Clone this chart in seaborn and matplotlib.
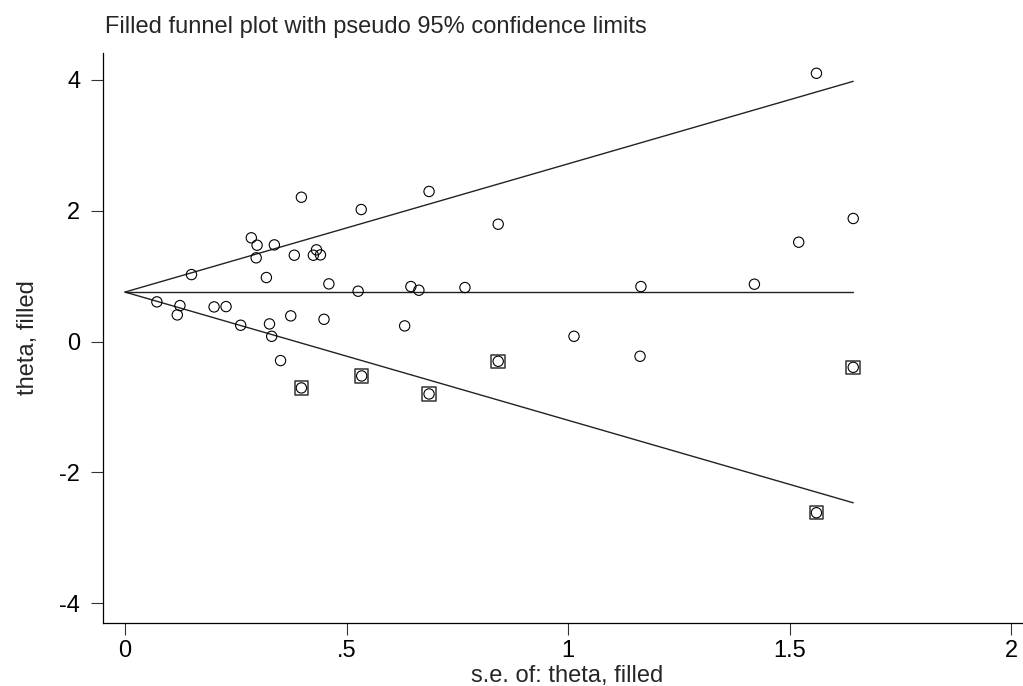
import numpy as np
import pandas as pd
import matplotlib
matplotlib.use("Agg")
import matplotlib.pyplot as plt
import seaborn as sns

# observed studies (standard error, effect estimate)
obs_se = [0.072, 0.124, 0.118, 0.150, 0.201, 0.228, 0.261, 0.285, 0.298, 0.296,
          0.319, 0.326, 0.331, 0.337, 0.351, 0.374, 0.382, 0.398, 0.432, 0.425,
          0.441, 0.449, 0.460, 0.526, 0.533, 0.631, 0.645, 0.663, 0.686, 0.767,
          0.842, 1.013, 1.162, 1.164, 1.420, 1.520, 1.560, 1.643]
obs_theta = [0.607, 0.550, 0.408, 1.024, 0.530, 0.535, 0.250, 1.586, 1.473, 1.280,
             0.979, 0.270, 0.081, 1.478, -0.290, 0.393, 1.320, 2.206, 1.402, 1.320,
             1.325, 0.341, 0.882, 0.770, 2.018, 0.240, 0.841, 0.785, 2.294, 0.826,
             1.794, 0.081, -0.224, 0.841, 0.877, 1.519, 4.100, 1.881]

# imputed ("filled") studies
fill_se = [0.398, 0.534, 0.686, 0.842, 1.560, 1.643]
fill_theta = [-0.708, -0.525, -0.800, -0.301, -2.615, -0.393]

pooled = 0.757
se_max = 1.643
z = 1.96

obs = pd.DataFrame({"se": obs_se, "theta": obs_theta})
filled = pd.DataFrame({"se": fill_se, "theta": fill_theta})
all_pts = pd.concat([obs, filled], ignore_index=True)

sns.set_style("ticks")
plt.rcParams["font.family"] = ["Liberation Sans", "DejaVu Sans"]

fig = plt.figure(figsize=(10.23, 6.86), dpi=100)
ax = fig.add_axes([103 / 1023, 63 / 686, 920 / 1023, 570 / 686])

# funnel: pooled line and pseudo 95% limits
se_line = np.array([0.0, se_max])
ax.plot(se_line, [pooled, pooled], color="#222222", lw=1.0)
ax.plot(se_line, pooled + z * se_line, color="#222222", lw=1.0)
ax.plot(se_line, pooled - z * se_line, color="#222222", lw=1.0)

sns.scatterplot(data=filled, x="se", y="theta", ax=ax, marker="s", s=95,
                facecolor="none", edgecolor="#333333", linewidth=1.1, zorder=3)
sns.scatterplot(data=all_pts, x="se", y="theta", ax=ax, marker="o", s=55,
                facecolor="none", edgecolor="black", linewidth=0.8, zorder=4)

ax.set_xlim(-0.0496, 2.026)
ax.set_ylim(-4.30, 4.41)
ax.set_xticks([0, 0.5, 1, 1.5, 2])
ax.set_xticklabels(["0", ".5", "1", "1.5", "2"])
ax.set_yticks([-4, -2, 0, 2, 4])
ax.set_yticklabels(["-4", "-2", "0", "2", "4"])

sns.despine(ax=ax)
for side in ["left", "bottom"]:
    ax.spines[side].set_color("black")
    ax.spines[side].set_linewidth(0.9)

ax.tick_params(axis="both", length=8.8, width=0.8, color="#333333",
               labelsize=17, labelcolor="black")
ax.tick_params(axis="x", pad=3.3)
ax.tick_params(axis="y", pad=7.5)

ax.set_xlabel("s.e. of: theta, filled", fontsize=17, labelpad=2)
ax.xaxis.label.set_x(0.505)
ax.set_ylabel("theta, filled", fontsize=17, labelpad=15)

fig.text(105 / 1023, 1 - 33 / 686, "Filled funnel plot with pseudo 95% confidence limits",
         fontsize=17, ha="left", va="baseline")

fig.savefig("out.png", dpi=100)
